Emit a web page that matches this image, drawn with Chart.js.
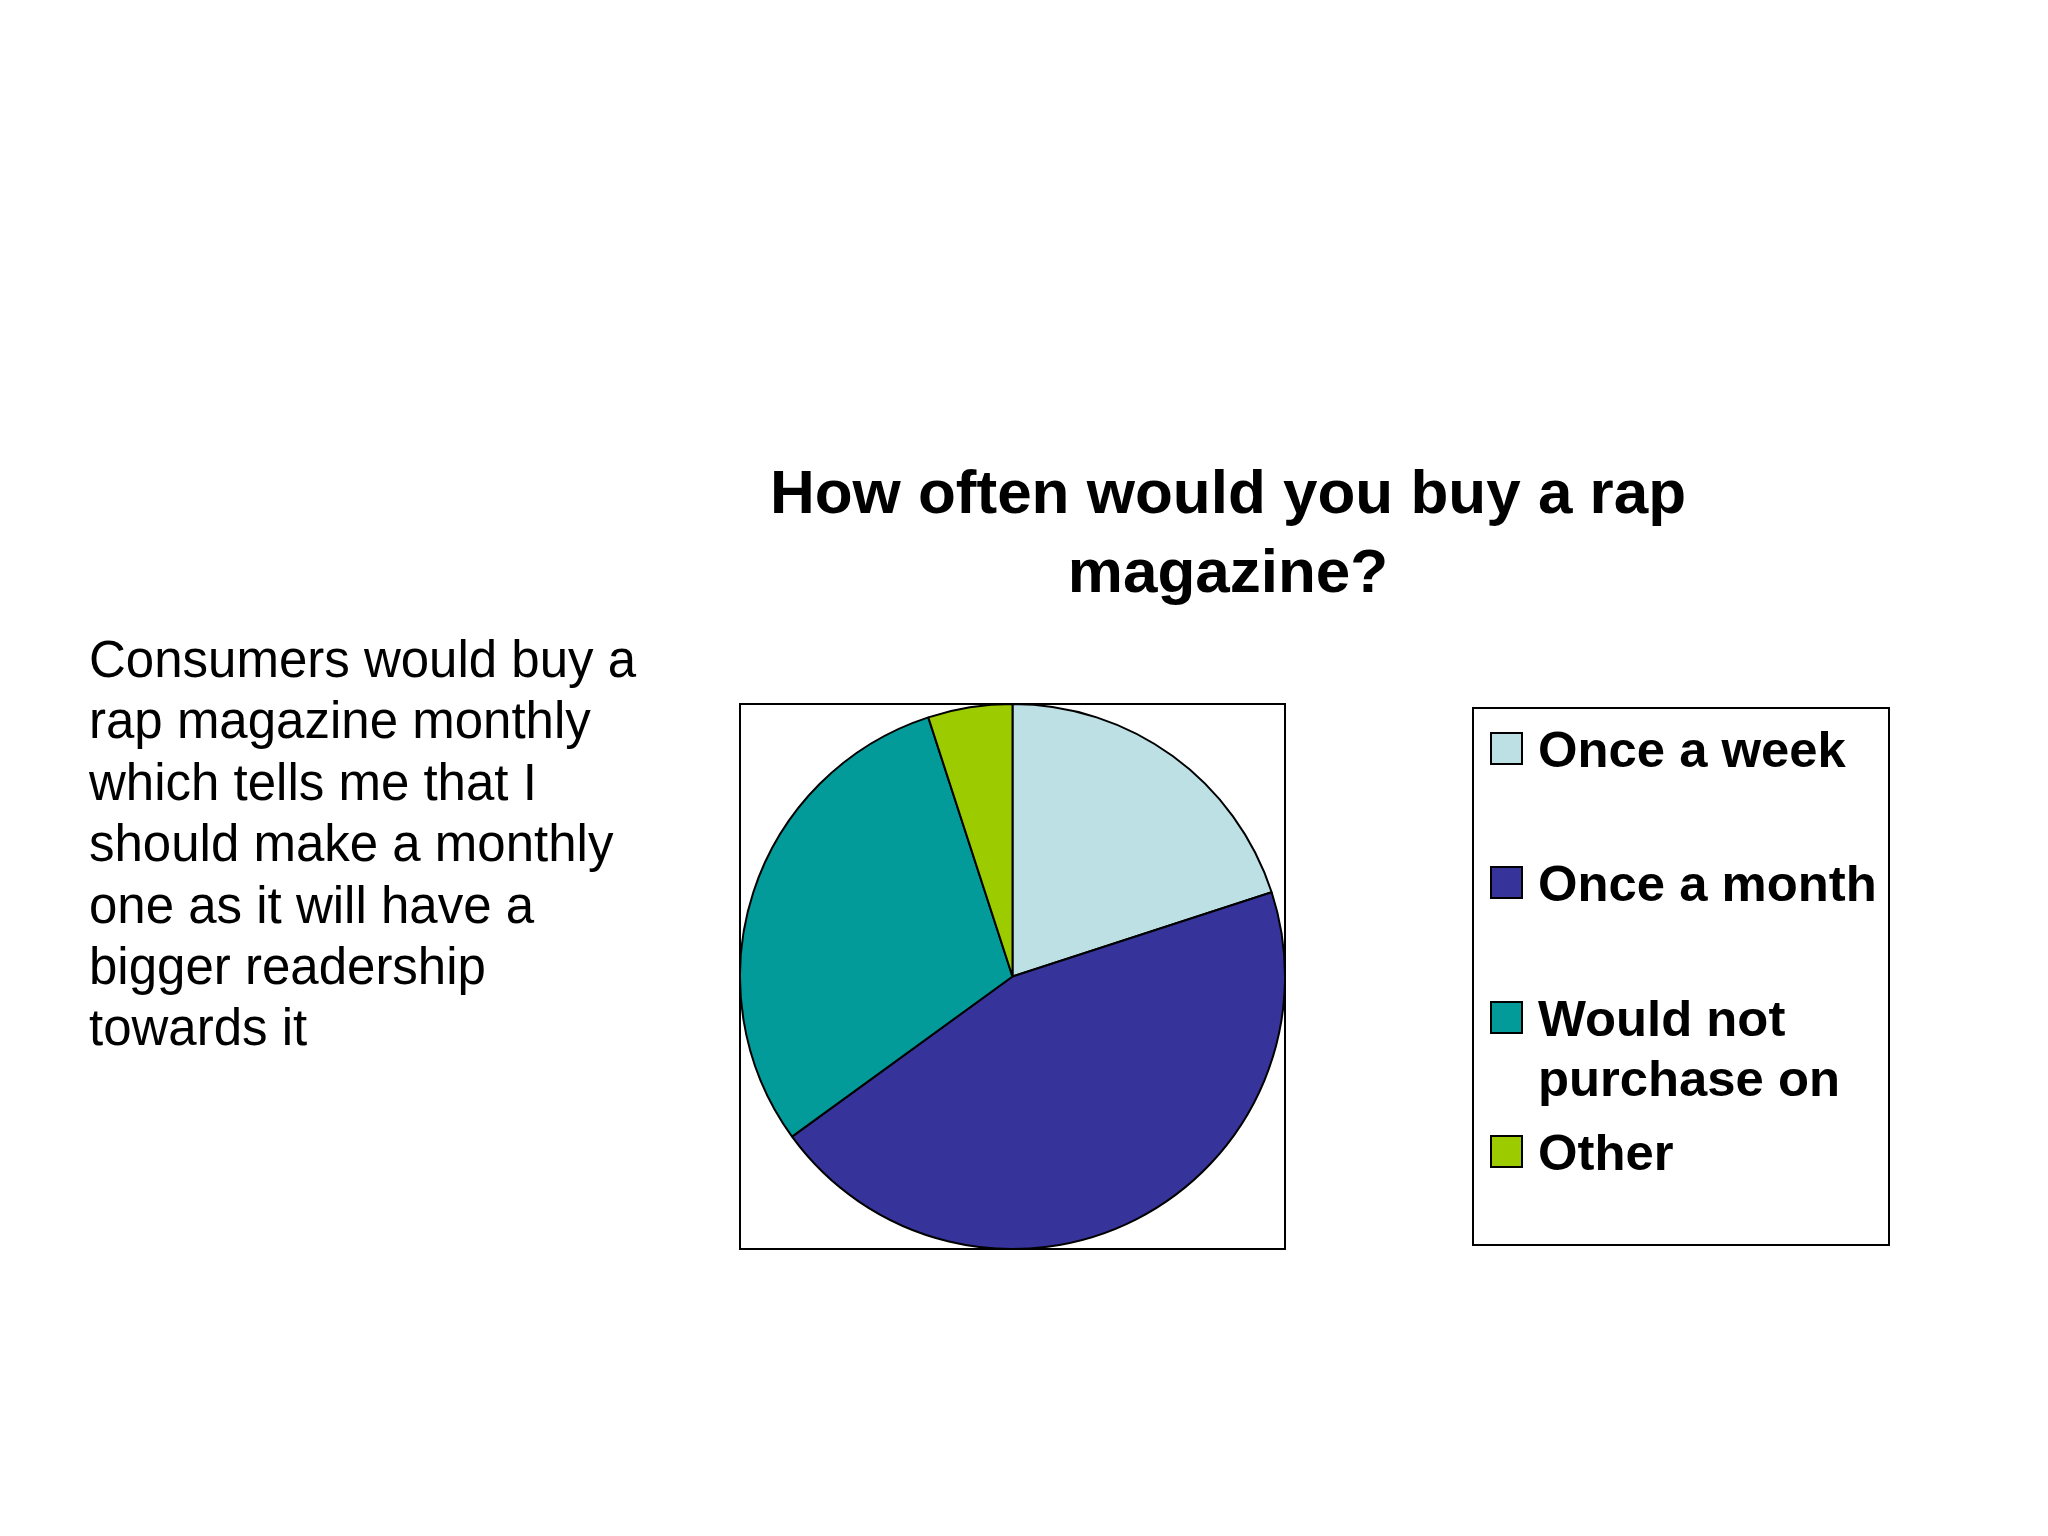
<!DOCTYPE html>
<html>
<head>
<meta charset="utf-8">
<script src="https://cdn.jsdelivr.net/npm/chart.js@4/dist/chart.umd.min.js"></script>
<style>
html,body{margin:0;padding:0;background:#fff;}
#page{position:relative;width:2048px;height:1536px;overflow:hidden;background:#fff;font-family:"Liberation Sans",Arial,sans-serif;color:#000;}
#note{position:absolute;left:89px;top:629px;font-size:51px;line-height:61.4px;white-space:pre;}
#title{position:absolute;left:728px;width:1000px;top:452px;text-align:center;font-weight:bold;font-size:62px;line-height:79px;white-space:nowrap;}
#plotBox{position:absolute;left:739px;top:703px;width:547px;height:547px;box-sizing:border-box;border:2px solid #000;}
#pieWrap{position:absolute;left:739px;top:703px;width:547px;height:547px;}
#legend{position:absolute;left:1472px;top:707px;width:418px;height:539px;box-sizing:border-box;border:2px solid #000;}
.item{position:absolute;left:16px;font-weight:bold;font-size:50.8px;line-height:60px;}
.sw{position:absolute;left:0;top:12px;width:33px;height:33px;box-sizing:border-box;border:2px solid #000;}
.lbl{position:absolute;left:48px;top:0;white-space:pre;}
</style>
</head>
<body>
<div id="page">
  <div id="note">Consumers would buy a
rap magazine monthly
which tells me that I
should make a monthly
one as it will have a
bigger readership
towards it</div>
  <div id="title">How often would you buy a rap<br>magazine?</div>
  <div id="plotBox"></div>
  <div id="pieWrap"><canvas id="pie" width="547" height="547"></canvas></div>
  <div id="legend"></div>
</div>
<script>
const categories=['Once a week','Once a month','Would not purchase on','Other'];
const legendLines=['Once a week','Once a month','Would not\npurchase on','Other'];
const shares=[20,45,30,5];
const colours=['#bde0e4','#36349a','#039a9a','#9ccb00'];

function buildLegend(){
  const box=document.getElementById('legend');
  box.innerHTML=categories.map((c,i)=>`<div class="item" style="top:${11+i*134.3}px"><div class="sw" style="background:${colours[i]}"></div><div class="lbl">${legendLines[i]}</div></div>`).join('');
}

window.addEventListener('DOMContentLoaded',()=>{
  buildLegend();
  const ctx=document.getElementById('pie').getContext('2d');
  new Chart(ctx,{type:'pie',
    data:{labels:categories,datasets:[{data:shares,backgroundColor:colours,borderColor:'#000',borderWidth:2}]},
    options:{responsive:false,animation:false,layout:{padding:0},
      plugins:{legend:{display:false},tooltip:{enabled:false},title:{display:false}}}});
});
</script>
</body>
</html>
